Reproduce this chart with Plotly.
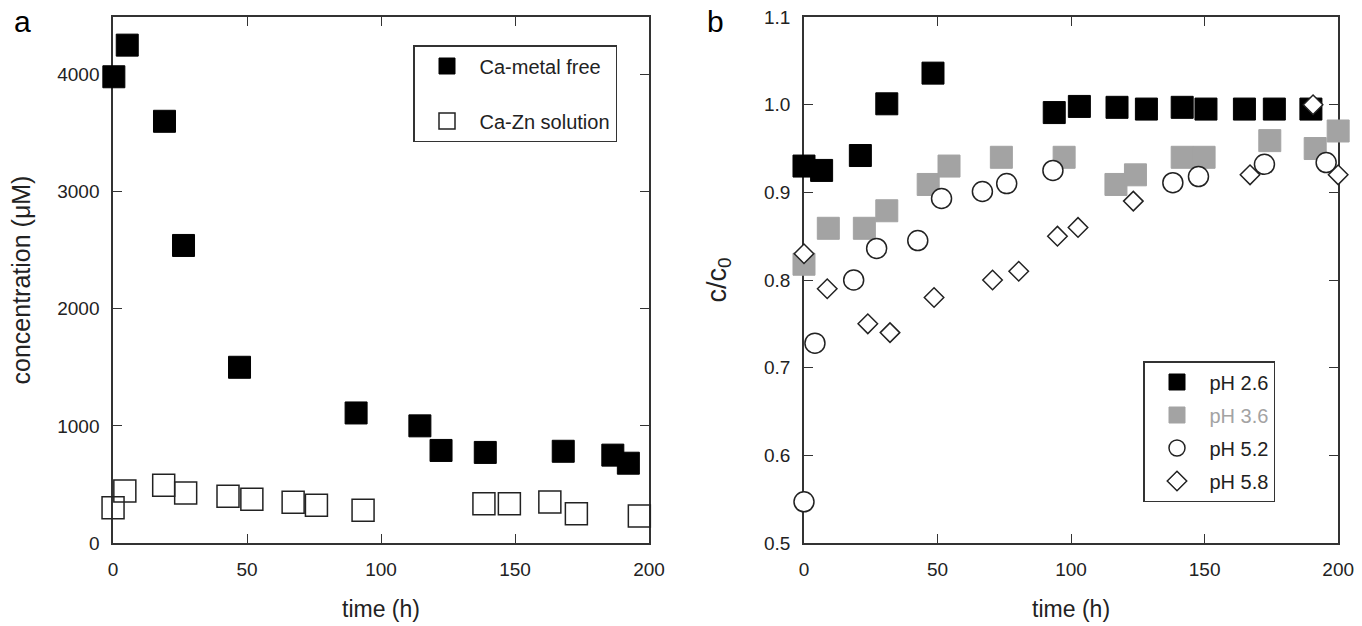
import plotly.graph_objects as go

# ---- Panel a data ----
a_free_t = [0.3, 5.3, 19.2, 26.3, 47.2, 90.7, 114.5, 122.4, 138.9, 168.0, 186.5, 192.3]
a_free_c = [3980, 4250, 3600, 2540, 1500, 1110, 1000, 790, 773, 783, 750, 681]
a_zn_t = [0.0, 4.4, 18.9, 27.1, 42.9, 51.8, 67.2, 75.9, 93.3, 138.4, 147.9, 163.0, 172.9, 196.4]
a_zn_c = [300, 443, 494, 426, 398, 374, 347, 323, 279, 334, 334, 351, 249, 231]

# ---- Panel b data ----
b26_t = [0, 6.6, 21.1, 31.0, 48.3, 93.7, 103.1, 117.2, 128.2, 141.6, 150.5, 164.9, 176.1, 189.8]
b26_v = [0.930, 0.925, 0.942, 1.001, 1.036, 0.991, 0.998, 0.997, 0.995, 0.997, 0.995, 0.995, 0.995, 0.995]
b36_t = [0, 9.1, 22.6, 31.0, 46.5, 54.3, 73.9, 97.4, 116.8, 124.1, 141.6, 149.8, 174.4, 191.4, 200]
b36_v = [0.818, 0.859, 0.859, 0.879, 0.909, 0.930, 0.940, 0.940, 0.909, 0.920, 0.940, 0.940, 0.959, 0.950, 0.970]
b52_t = [0, 4.1, 18.6, 27.2, 42.6, 51.5, 66.8, 75.9, 93.2, 138.1, 147.7, 172.4, 195.5]
b52_v = [0.547, 0.728, 0.800, 0.836, 0.845, 0.893, 0.901, 0.910, 0.925, 0.911, 0.918, 0.932, 0.934]
b58_t = [0, 8.7, 23.9, 32.2, 48.7, 70.6, 80.4, 94.9, 102.6, 123.3, 167.0, 190.6, 200]
b58_v = [0.830, 0.790, 0.750, 0.740, 0.780, 0.800, 0.810, 0.850, 0.860, 0.890, 0.920, 1.000, 0.920]

a_xticks = [0, 50, 100, 150, 200]
a_yticks = [0, 1000, 2000, 3000, 4000]
b_yticks = [0.5, 0.6, 0.7, 0.8, 0.9, 1.0, 1.1]
b_yticklabels = ["0.5", "0.6", "0.7", "0.8", "0.9", "1.0", "1.1"]

GRAY = "#a3a3a3"
FONT = "Liberation Sans, Arial, sans-serif"

fig = go.Figure()

fig.add_trace(go.Scatter(x=a_free_t, y=a_free_c, mode="markers", name="Ca-metal free", cliponaxis=False,
                         marker=dict(symbol="square", size=22, color="black", line=dict(color="black", width=1)),
                         xaxis="x", yaxis="y", legend="legend", legendgroup="a1"))
fig.add_trace(go.Scatter(x=a_zn_t, y=a_zn_c, mode="markers", name="Ca-Zn solution", cliponaxis=False,
                         marker=dict(symbol="square-open", size=22, color="#222", line=dict(width=1.5)),
                         xaxis="x", yaxis="y", legend="legend", legendgroup="a2"))

fig.add_trace(go.Scatter(x=b36_t, y=b36_v, mode="markers", cliponaxis=False,
                         name="<span style='color:%s'>pH 3.6</span>" % GRAY,
                         marker=dict(symbol="square", size=22, color=GRAY, line=dict(color=GRAY, width=1)),
                         xaxis="x2", yaxis="y2", legend="legend2", legendgroup="b2", legendrank=2))
fig.add_trace(go.Scatter(x=b26_t, y=b26_v, mode="markers", name="pH 2.6", cliponaxis=False,
                         marker=dict(symbol="square", size=22, color="black", line=dict(color="black", width=1)),
                         xaxis="x2", yaxis="y2", legend="legend2", legendgroup="b1", legendrank=1))
fig.add_trace(go.Scatter(x=b52_t, y=b52_v, mode="markers", name="pH 5.2", cliponaxis=False,
                         marker=dict(symbol="circle", size=20, color="white", line=dict(color="#222", width=1.5)),
                         xaxis="x2", yaxis="y2", legend="legend2", legendgroup="b3", legendrank=3))
fig.add_trace(go.Scatter(x=b58_t, y=b58_v, mode="markers", name="pH 5.8", cliponaxis=False,
                         marker=dict(symbol="diamond", size=15, color="white", line=dict(color="#222", width=1.5)),
                         xaxis="x2", yaxis="y2", legend="legend2", legendgroup="b4", legendrank=4))

axis_common = dict(showgrid=False, zeroline=False, showline=True, linecolor="#333", linewidth=1.5,
                   mirror="ticks", ticks="inside", ticklen=9, tickwidth=1.2, tickcolor="#333",
                   tickfont=dict(family=FONT, size=19, color="#222"), layer="below traces",
                   automargin=False)

fig.update_layout(
    width=1362, height=626,
    margin=dict(l=0, r=0, t=0, b=0, autoexpand=False),
    paper_bgcolor="white", plot_bgcolor="white",
    font=dict(family=FONT, color="#222"),
    xaxis=dict(domain=[0.083, 0.4765], range=[0, 200], tickvals=a_xticks, anchor="y", ticklabelstandoff=8,
               title=dict(text="time (h)", font=dict(size=23), standoff=22), **axis_common),
    yaxis=dict(domain=[0.1326, 0.9728], range=[0, 4490], tickvals=a_yticks, anchor="x", ticklabelstandoff=8,
               title=dict(text="concentration (μM)", font=dict(size=25), standoff=19), **axis_common),
    xaxis2=dict(domain=[0.5903, 0.9825], range=[0, 200], tickvals=a_xticks, anchor="y2", ticklabelstandoff=8,
                title=dict(text="time (h)", font=dict(size=23), standoff=22), **axis_common),
    yaxis2=dict(domain=[0.1326, 0.9728], range=[0.5, 1.1], tickvals=b_yticks, ticktext=b_yticklabels, anchor="x2",
                ticklabelstandoff=8,
                title=dict(text="c/c<sub>0</sub>", font=dict(size=27), standoff=30), **axis_common),
    legend=dict(x=413 / 1362, y=1 - 45 / 626, xanchor="left", yanchor="top", bordercolor="#333", borderwidth=1.5,
                bgcolor="white", font=dict(family=FONT, size=20, color="#222"), itemwidth=55,
                traceorder="grouped", tracegroupgap=26),
    legend2=dict(x=1143 / 1362, y=1 - 361 / 626, xanchor="left", yanchor="top", bordercolor="#333", borderwidth=1.5,
                 bgcolor="white", font=dict(family=FONT, size=20, color="#222"), itemwidth=55,
                 traceorder="grouped", tracegroupgap=4),
)

fig.add_annotation(text="a", x=0.009, y=0.995, xref="paper", yref="paper", xanchor="left", yanchor="top",
                   showarrow=False, font=dict(family=FONT, size=30, color="black"))
fig.add_annotation(text="b", x=0.5175, y=0.995, xref="paper", yref="paper", xanchor="left", yanchor="top",
                   showarrow=False, font=dict(family=FONT, size=30, color="black"))

fig.write_html("out.html")
